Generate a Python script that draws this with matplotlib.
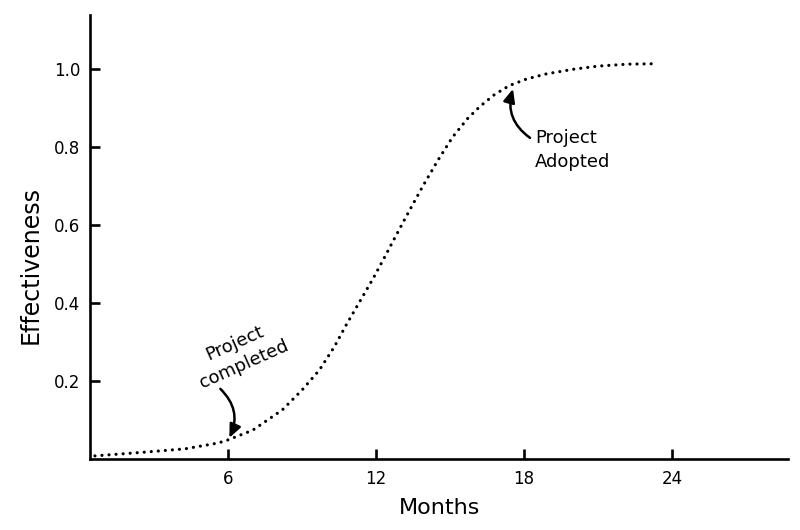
import numpy as np
import matplotlib
matplotlib.use("Agg")
import matplotlib.pyplot as plt

plt.rcParams['font.family'] = ['Liberation Sans Narrow', 'DejaVu Sans']

# ---- data ----
months = [0.6, 2.5, 4.25, 5.6, 6.0, 7.0, 8.2, 9.0, 9.7, 10.3, 10.8, 11.35,
          11.9, 12.3, 12.7, 13.25, 13.9, 14.5, 15.1, 15.7, 16.2, 16.8,
          17.4, 18.1, 18.9, 20.0, 21.0, 22.2, 23.2]
effectiveness = [0.008, 0.017, 0.026, 0.041, 0.049, 0.074, 0.126, 0.177,
                 0.228, 0.287, 0.345, 0.405, 0.465, 0.512, 0.560, 0.625,
                 0.700, 0.765, 0.825, 0.872, 0.903, 0.934, 0.957, 0.974,
                 0.987, 0.999, 1.007, 1.012, 1.013]

x_ticks = [6, 12, 18, 24]
y_ticks = [0.2, 0.4, 0.6, 0.8, 1.0]
y_tick_labels = ['0.2', '0.4', '0.6', '0.8', '1.0']

event_labels = ['Project\ncompleted', 'Project\nAdopted']
event_months = [6.05, 17.55]

# ---- figure ----
fig = plt.figure(figsize=(8.0, 5.3), dpi=100)
ax = fig.add_axes([90 / 800, 71 / 530, 698 / 800, 444 / 530])

ax.plot(months, effectiveness, color='black', linewidth=2.3,
        linestyle=(0, (0.01, 2.2)), dash_capstyle='round')

ax.set_xlim(0.4, 28.7)
ax.set_ylim(0, 1.138)

for s in ['top', 'right']:
    ax.spines[s].set_visible(False)
for s in ['left', 'bottom']:
    ax.spines[s].set_linewidth(1.9)
    ax.spines[s].set_color('black')

ax.set_xticks(x_ticks)
ax.set_xticklabels([str(t) for t in x_ticks])
ax.set_yticks(y_ticks)
ax.set_yticklabels(y_tick_labels)
ax.tick_params(axis='both', direction='in', length=7, width=1.9,
               labelsize=12, colors='black')
ax.tick_params(axis='x', pad=8)
ax.tick_params(axis='y', pad=7)

ax.set_xlabel('Months', fontsize=16)
ax.set_ylabel('Effectiveness', fontsize=17)
ax.xaxis.set_label_coords(0.501, -0.088)
ax.yaxis.set_label_coords(-0.068, 0.437)

# ---- annotations ----
# Project completed
m0 = event_months[0]
v0 = float(np.interp(m0, months, effectiveness)) + 0.004
ax.annotate('', xy=(m0, v0), xytext=(-9, 49), textcoords='offset pixels',
            arrowprops=dict(arrowstyle='-|>,head_length=0.8,head_width=0.35',
                            color='black', lw=1.8,
                            connectionstyle='arc3,rad=-0.35',
                            shrinkA=0, shrinkB=0))
ax.annotate(event_labels[0], xy=(m0, v0), xytext=(10, 84),
            textcoords='offset pixels', ha='center', va='center',
            rotation=24, rotation_mode='anchor', fontsize=13,
            multialignment='center', linespacing=1.4)

# Project adopted
m1 = event_months[1]
v1 = float(np.interp(m1, months, effectiveness)) - 0.012
ax.annotate('', xy=(m1, v1), xytext=(17, -49), textcoords='offset pixels',
            arrowprops=dict(arrowstyle='-|>,head_length=0.8,head_width=0.35',
                            color='black', lw=1.8,
                            connectionstyle='arc3,rad=-0.35',
                            shrinkA=0, shrinkB=0))
ax.annotate(event_labels[1], xy=(m1, v1), xytext=(22, -61),
            textcoords='offset pixels', ha='left', va='center',
            fontsize=13, linespacing=1.45)

fig.savefig('out.png', dpi=100)
